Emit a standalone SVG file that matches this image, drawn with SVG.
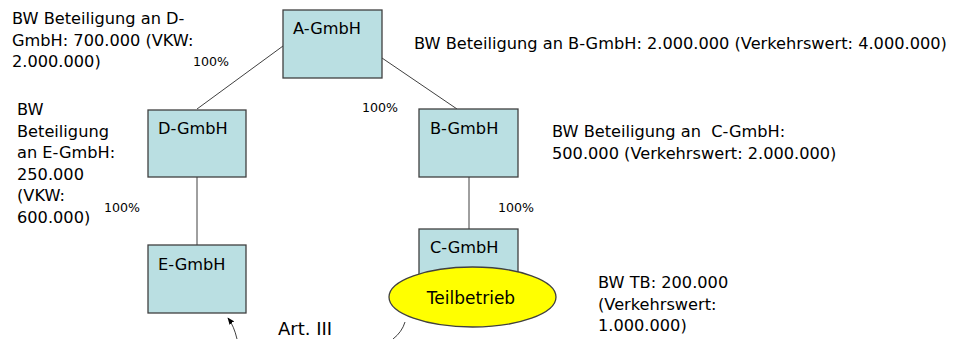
<svg xmlns="http://www.w3.org/2000/svg" width="963" height="339" viewBox="0 0 963 339">
  <defs>
    <style>
      text { font-family: "DejaVu Sans", "Liberation Sans", sans-serif; fill: #000; white-space: pre; }
      .lbl { font-size: 16.2px; }
      .big { font-size: 17px; }
      .art { font-size: 18px; }
      .pct { font-size: 12.6px; }
      .box { fill: #badfe2; stroke: #404040; stroke-width: 1.3; }
      .tb { fill: #ffff00; stroke: #404040; stroke-width: 1.3; }
      .conn { fill: none; stroke: #404040; stroke-width: 1; }
    </style>
    <marker id="arrow" viewBox="0 0 10 10" refX="9" refY="5" markerWidth="7" markerHeight="7" orient="auto-start-reverse">
      <path d="M0,1 L10,5 L0,9 Z" fill="#000"/>
    </marker>
  </defs>
  <rect width="963" height="339" fill="#fff"/>

  <!-- ownership connectors -->
  <g id="connectors">
    <line class="conn" x1="283" y1="46" x2="197" y2="109"/>
    <line class="conn" x1="382" y1="58" x2="457" y2="109"/>
    <line class="conn" x1="197" y1="177" x2="197" y2="245"/>
    <line class="conn" x1="469" y1="177" x2="469" y2="229"/>
    <path class="conn" d="M237,339 Q234,326 228,318" marker-end="url(#arrow)"/>
    <path class="conn" d="M405,322 Q402,332 393,339"/>
  </g>

  <g id="a-gmbh">
    <rect class="box" x="283" y="10" width="99" height="68"/>
    <text class="lbl" x="293" y="34">A-GmbH</text>
  </g>
  <g id="d-gmbh">
    <rect class="box" x="148" y="110" width="98" height="67"/>
    <text class="lbl" x="158" y="134">D-GmbH</text>
  </g>
  <g id="b-gmbh">
    <rect class="box" x="419" y="109" width="99" height="68"/>
    <text class="lbl" x="430" y="134">B-GmbH</text>
  </g>
  <g id="e-gmbh">
    <rect class="box" x="148" y="245" width="98" height="68"/>
    <text class="lbl" x="158" y="270">E-GmbH</text>
  </g>
  <g id="c-gmbh">
    <rect class="box" x="419" y="229" width="99" height="68"/>
    <text class="lbl" x="430" y="253">C-GmbH</text>
  </g>
  <g id="teilbetrieb">
    <ellipse class="tb" cx="472.5" cy="297" rx="83.5" ry="30"/>
    <text class="big" x="471" y="304" text-anchor="middle">Teilbetrieb</text>
  </g>

  <!-- percentages -->
  <g id="percentages">
    <text class="pct" x="193" y="66">100%</text>
    <text class="pct" x="362" y="112">100%</text>
    <text class="pct" x="104" y="212">100%</text>
    <text class="pct" x="498" y="212">100%</text>
  </g>

  <!-- book values -->
  <g id="notes">
    <text class="lbl" x="12" y="24">BW Beteiligung an D-</text>
    <text class="lbl" x="12" y="45.5">GmbH: 700.000 (VKW:</text>
    <text class="lbl" x="12" y="67">2.000.000)</text>

    <text class="lbl" x="17" y="115">BW</text>
    <text class="lbl" x="17" y="136.5">Beteiligung</text>
    <text class="lbl" x="17" y="158">an E-GmbH:</text>
    <text class="lbl" x="17" y="179.5">250.000</text>
    <text class="lbl" x="17" y="201">(VKW:</text>
    <text class="lbl" x="17" y="222.5">600.000)</text>

    <text class="lbl" x="414" y="49">BW Beteiligung an B-GmbH: 2.000.000 (Verkehrswert: 4.000.000)</text>

    <text class="lbl" x="552" y="137">BW Beteiligung an  C-GmbH:</text>
    <text class="lbl" x="552" y="158.5">500.000 (Verkehrswert: 2.000.000)</text>

    <text class="lbl" x="598" y="288">BW TB: 200.000</text>
    <text class="lbl" x="598" y="309.5">(Verkehrswert:</text>
    <text class="lbl" x="598" y="331">1.000.000)</text>

    <text class="art" x="278" y="335">Art. III</text>
  </g>
</svg>
